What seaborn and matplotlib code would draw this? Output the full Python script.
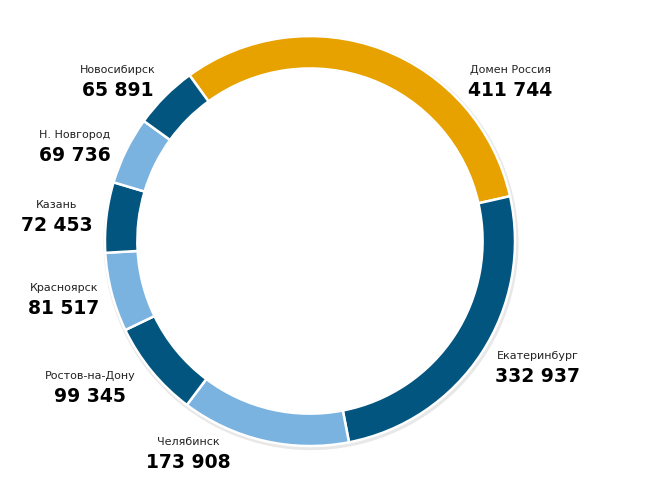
import matplotlib
matplotlib.use("Agg")
import matplotlib.pyplot as plt
import seaborn as sns

# data
cities = ["Домен Россия", "Екатеринбург", "Челябинск", "Ростов-на-Дону",
          "Красноярск", "Казань", "Н. Новгород", "Новосибирск"]
values = [411744, 332937, 173908, 99345, 81517, 72453, 69736, 65891]
color_keys = ["gold", "dark", "light", "dark", "light", "dark", "light", "dark"]

# label anchors (pie radius units)
label_x = [0.976, 1.112, -0.595, -1.073, -1.200, -1.234, -1.146, -0.937]
label_y = [0.785, -0.610, -1.029, -0.707, -0.278, 0.127, 0.468, 0.785]

palette = {"gold": "#E8A200", "dark": "#02557F", "light": "#7BB3E0"}

sns.set_theme(style="white")
plt.rcParams["font.family"] = ["DejaVu Sans"]

fig = plt.figure(figsize=(6.46, 4.94), dpi=100)
ax = fig.add_axes([0, 0, 1, 1])

# faint shadow just outside the ring
ax.pie([1], radius=1.012, colors=["#E8E8E8"], startangle=0,
       wedgeprops=dict(width=0.06, edgecolor="none"), center=(0.005, -0.008))

ax.pie(values, radius=1.0, startangle=126, counterclock=False,
       colors=[palette[k] for k in color_keys],
       wedgeprops=dict(width=0.158, edgecolor="white", linewidth=1.8))

for name, val, x, y in zip(cities, values, label_x, label_y):
    ax.text(x, y + 0.05, name, ha="center", va="center", fontsize=8, color="#222222")
    ax.text(x, y - 0.05, f"{val:,}".replace(",", " "), ha="center", va="center",
            fontsize=13.5, fontweight="bold", color="black")

ax.set_xlim(-1.512, 1.639)
ax.set_ylim(-1.234, 1.176)
ax.set_aspect("auto")
ax.axis("off")

fig.savefig("out.png", dpi=100, facecolor="white")
